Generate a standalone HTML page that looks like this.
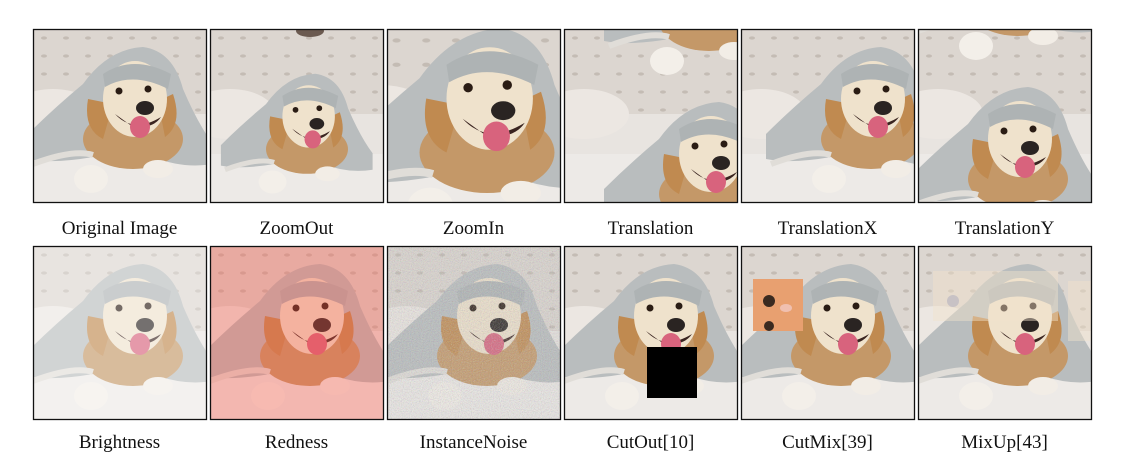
<!DOCTYPE html>
<html><head><style>
html,body{margin:0;padding:0;background:#fff;width:1123px;height:468px;overflow:hidden}
body{position:relative;font-family:"Liberation Serif",serif}
.l{position:absolute;font-size:19px;line-height:22px;color:#111;width:177px;text-align:center;white-space:nowrap}
svg{position:absolute;left:0;top:0;display:block}
</style></head><body>
<svg width="1123" height="468" xmlns="http://www.w3.org/2000/svg">
<defs>
<pattern id="tuft" width="22" height="18" patternUnits="userSpaceOnUse">
<rect width="22" height="18" fill="#dcd6d0"/><ellipse cx="11" cy="9" rx="3" ry="1.6" fill="#c4bcb4"/>
</pattern>
<filter id="noise"><feTurbulence type="fractalNoise" baseFrequency="0.9" numOctaves="2" seed="3"/><feColorMatrix type="saturate" values="0.6"/></filter>
<g id="bg">
<rect x="-100" y="-100" width="400" height="400" fill="#e8e4e0"/>
<rect x="-100" y="-100" width="400" height="185" fill="url(#tuft)"/>
<ellipse cx="20" cy="85" rx="45" ry="25" fill="#ece7e2"/>
<rect x="-100" y="125" width="400" height="200" fill="#edeae7"/>
</g>
<g id="dog">
<path d="M-5 105 Q20 80 50 55 Q75 20 110 18 Q140 22 150 60 Q165 95 180 115 L180 135 Q150 140 120 128 L60 128 Q20 135 -5 130Z" fill="#b9bdbe"/>
<ellipse cx="100" cy="110" rx="50" ry="30" fill="#c49868"/>
<path d="M55 70 Q50 100 70 110 L80 75Z" fill="#c08a50"/>
<path d="M140 65 Q150 95 132 108 L125 72Z" fill="#c08a50"/>
<ellipse cx="102" cy="70" rx="32" ry="38" fill="#efe2cc"/>
<path d="M70 45 Q100 25 138 45 L135 60 Q100 42 72 58Z" fill="#aeb3b4"/>
<circle cx="86" cy="62" r="3.5" fill="#2a1c14"/><circle cx="115" cy="60" r="3.5" fill="#2a1c14"/>
<ellipse cx="112" cy="79" rx="9" ry="7" fill="#2a2422"/>
<path d="M82 85 Q100 105 128 88 Q120 100 100 98Z" fill="#3a2420"/>
<ellipse cx="107" cy="98" rx="10" ry="11" fill="#d8637d"/>
<ellipse cx="58" cy="150" rx="17" ry="14" fill="#f3efe9"/>
<ellipse cx="125" cy="140" rx="15" ry="9" fill="#f2ede6"/>
<path d="M0 135 Q40 120 60 126" stroke="#e0ddd8" stroke-width="6" fill="none"/>
</g>
<g id="scene"><use href="#bg"/><use href="#dog"/></g>
<clipPath id="c"><rect width="173" height="173"/></clipPath>
</defs>

<g transform="translate(33,29)" clip-path="url(#c)"><use href="#scene"/></g>
<g transform="translate(210,29)" clip-path="url(#c)"><use href="#bg"/><g transform="translate(15,30) scale(0.82)"><use href="#dog"/></g><ellipse cx="100" cy="2" rx="14" ry="6" fill="#6b5a50"/></g>
<g transform="translate(387,29)" clip-path="url(#c)"><g transform="translate(-35,-25) scale(1.35)"><use href="#scene"/></g></g>
<g transform="translate(564,29)" clip-path="url(#c)"><use href="#bg"/><g transform="translate(45,55)"><use href="#dog"/></g><g transform="translate(45,-118)"><use href="#dog"/></g></g>
<g transform="translate(741,29)" clip-path="url(#c)"><use href="#bg"/><g transform="translate(30,0)"><use href="#dog"/></g><g transform="translate(30,-173)"><use href="#dog"/></g></g>
<g transform="translate(918,29)" clip-path="url(#c)"><use href="#bg"/><g transform="translate(0,40)"><use href="#dog"/></g><g transform="translate(0,-133)"><use href="#dog"/></g></g>

<g transform="translate(33,246)" clip-path="url(#c)"><use href="#scene"/><rect width="173" height="173" fill="#fff" opacity="0.35"/></g>
<g transform="translate(210,246)" clip-path="url(#c)"><use href="#scene"/><rect width="173" height="173" fill="#ff5a4a" opacity="0.35"/></g>
<g transform="translate(387,246)" clip-path="url(#c)"><use href="#scene"/><rect width="173" height="173" filter="url(#noise)" opacity="0.55"/></g>
<g transform="translate(564,246)" clip-path="url(#c)"><use href="#scene"/><rect x="83" y="101" width="50" height="51" fill="#000"/></g>
<g transform="translate(741,246)" clip-path="url(#c)"><use href="#scene"/><rect x="12" y="33" width="50" height="52" fill="#e8a070"/><circle cx="28" cy="55" r="6" fill="#3a2a20"/><circle cx="28" cy="80" r="5" fill="#3a2a20"/><ellipse cx="45" cy="62" rx="6" ry="4" fill="#f0c0b0"/></g>
<g transform="translate(918,246)" clip-path="url(#c)"><use href="#scene"/><rect x="15" y="25" width="125" height="50" fill="#f2e2cc" opacity="0.45"/><rect x="150" y="35" width="23" height="60" fill="#f2e2cc" opacity="0.45"/><circle cx="35" cy="55" r="6" fill="#aab" opacity="0.5"/></g>

<g fill="none" stroke="#111" stroke-width="1.3">
<rect x="33.5" y="29.5" width="173" height="173"/><rect x="210.5" y="29.5" width="173" height="173"/><rect x="387.5" y="29.5" width="173" height="173"/><rect x="564.5" y="29.5" width="173" height="173"/><rect x="741.5" y="29.5" width="173" height="173"/><rect x="918.5" y="29.5" width="173" height="173"/>
<rect x="33.5" y="246.5" width="173" height="173"/><rect x="210.5" y="246.5" width="173" height="173"/><rect x="387.5" y="246.5" width="173" height="173"/><rect x="564.5" y="246.5" width="173" height="173"/><rect x="741.5" y="246.5" width="173" height="173"/><rect x="918.5" y="246.5" width="173" height="173"/>
</g>
</svg>
<div class="l" style="left:31px;top:218px">Original Image</div>
<div class="l" style="left:208px;top:218px">ZoomOut</div>
<div class="l" style="left:385px;top:218px">ZoomIn</div>
<div class="l" style="left:562px;top:218px">Translation</div>
<div class="l" style="left:739px;top:218px">TranslationX</div>
<div class="l" style="left:916px;top:218px">TranslationY</div>
<div class="l" style="left:31px;top:432px">Brightness</div>
<div class="l" style="left:208px;top:432px">Redness</div>
<div class="l" style="left:385px;top:432px">InstanceNoise</div>
<div class="l" style="left:562px;top:432px">CutOut[10]</div>
<div class="l" style="left:739px;top:432px">CutMix[39]</div>
<div class="l" style="left:916px;top:432px">MixUp[43]</div>
</body></html>
